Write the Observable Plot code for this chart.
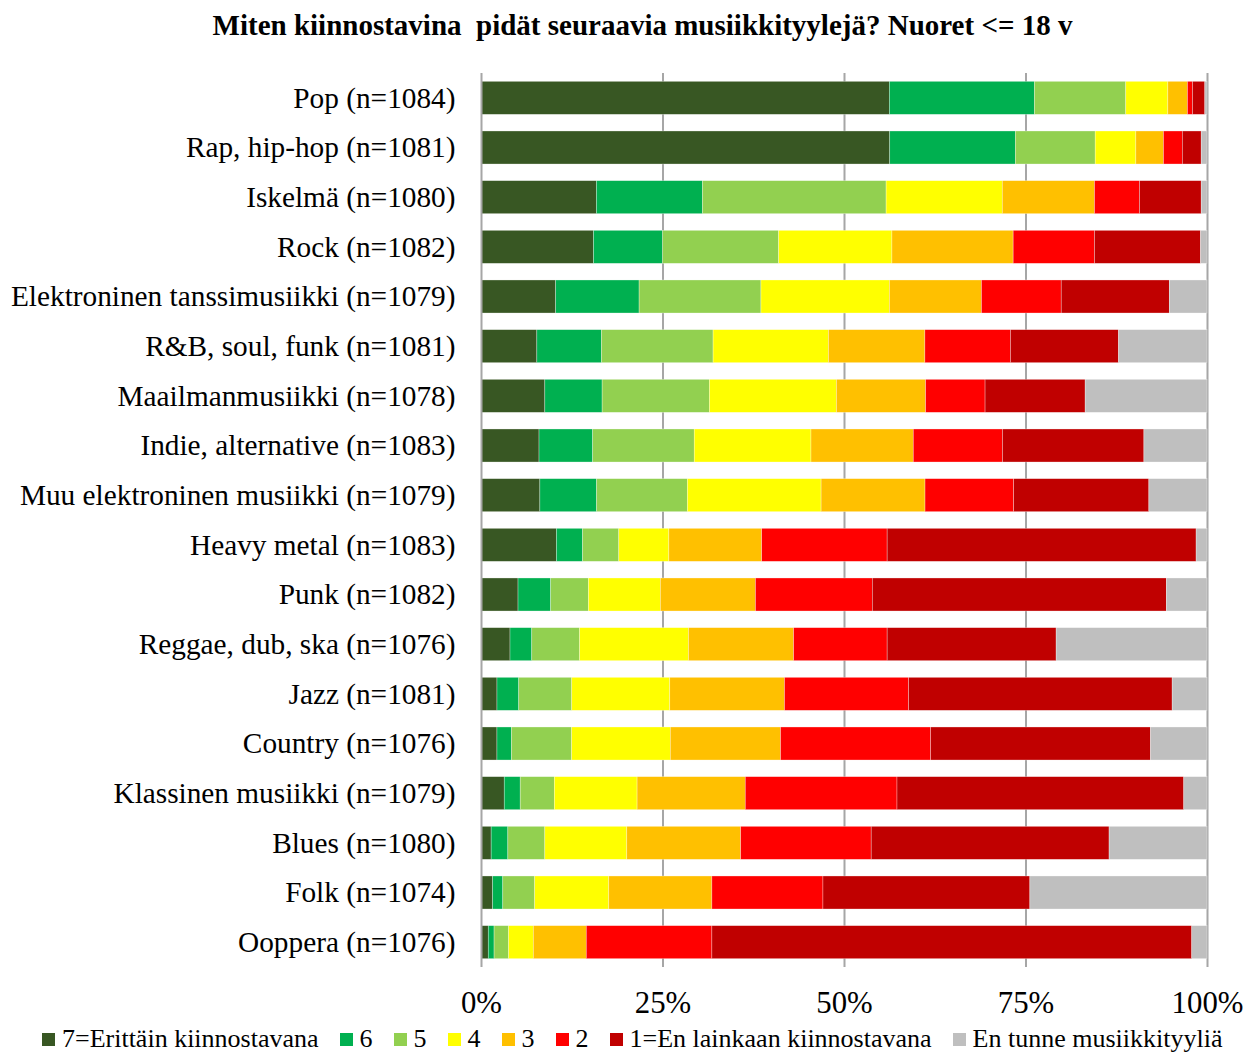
<!DOCTYPE html>
<html><head><meta charset="utf-8">
<script src="https://cdn.jsdelivr.net/npm/d3@7"></script>
<script src="https://cdn.jsdelivr.net/npm/@observablehq/plot@0.6"></script>
<style>
body{margin:0;background:#fff;font-family:"Liberation Serif","Times New Roman",serif;}
#title{height:48px;line-height:50px;text-align:center;font-weight:bold;font-size:29px;white-space:pre;padding-left:33px;box-sizing:border-box;width:1252px}
#chart svg{display:block}
#legend{display:flex;white-space:nowrap;overflow:hidden;padding-left:42px;font-size:26px;line-height:30px;height:34px;padding-top:4px;align-items:center;width:1252px;box-sizing:border-box}
.item{display:flex;align-items:center;margin-right:21px;flex:none}
.sw{width:13px;height:13px;margin-right:7px;flex:none}
</style></head><body>
<div id="title">Miten kiinnostavina  pidät seuraavia musiikkityylejä? Nuoret &lt;= 18 v</div>
<div id="chart"></div>
<div id="legend"></div>
<script>
const categories = ["Pop (n=1084)","Rap, hip-hop (n=1081)","Iskelmä (n=1080)","Rock (n=1082)","Elektroninen tanssimusiikki (n=1079)","R&B, soul, funk (n=1081)","Maailmanmusiikki (n=1078)","Indie, alternative (n=1083)","Muu elektroninen musiikki (n=1079)","Heavy metal (n=1083)","Punk (n=1082)","Reggae, dub, ska (n=1076)","Jazz (n=1081)","Country (n=1076)","Klassinen musiikki (n=1079)","Blues (n=1080)","Folk (n=1074)","Ooppera (n=1076)"];
const series = ["7=Erittäin kiinnostavana","6","5","4","3","2","1=En lainkaan kiinnostavana","En tunne musiikkityyliä"];
const colors = ["#385723","#00b050","#92d050","#ffff00","#ffc000","#ff0000","#c00000","#bfbfbf"];
const s7 = [56.3,56.3,15.9,15.5,10.3,7.7,8.8,8.0,8.1,10.4,5.1,4.0,2.2,2.2,3.2,1.4,1.6,1.0];
const s6 = [20.0,17.3,14.6,9.5,11.5,8.9,7.9,7.4,7.8,3.6,4.5,3.0,3.0,2.0,2.2,2.3,1.4,0.8];
const s5 = [12.6,11.0,25.3,16.0,16.8,15.4,14.8,14.0,12.5,5.0,5.2,6.6,7.3,8.3,4.7,5.1,4.4,2.0];
const s4 = [5.8,5.6,16.0,15.6,17.7,15.9,17.5,16.1,18.4,6.9,9.9,15.0,13.5,13.6,11.4,11.3,10.2,3.4];
const s3 = [2.7,3.8,12.7,16.7,12.7,13.3,12.3,14.1,14.3,12.8,13.1,14.5,15.8,15.2,14.9,15.7,14.2,7.3];
const s2 = [0.7,2.6,6.2,11.2,11.0,11.8,8.2,12.3,12.2,17.3,16.1,12.9,17.1,20.7,20.9,18.0,15.3,17.3];
const s1 = [1.7,2.6,8.5,14.6,14.9,14.9,13.8,19.5,18.6,42.6,40.5,23.3,36.3,30.3,39.5,32.8,28.5,66.1];
const s0 = [0.3,0.8,0.8,0.9,5.2,12.2,16.8,8.7,8.0,1.5,5.6,20.8,4.8,7.8,3.2,13.5,24.4,2.1];
const xTicks = [0,0.25,0.5,0.75,1];

const seriesValues = [s7,s6,s5,s4,s3,s2,s1,s0];
const data = [];
categories.forEach((c,i)=>{
  series.forEach((s,j)=>{ data.push({category:c, series:s, value:seriesValues[j][i]}); });
});

const chart = Plot.plot({
  width:1252, height:972,
  marginLeft:481, marginRight:45, marginTop:25, marginBottom:53,
  style:{fontFamily:"'Liberation Serif','Times New Roman',serif", fontSize:"29px", color:"#000", background:"#fff"},
  x:{domain:[0,1]},
  y:{domain:categories, paddingInner:0.335, paddingOuter:0.1675, round:false},
  color:{domain:series, range:colors},
  marks:[
    Plot.gridX(xTicks.slice(1), {stroke:"#a6a6a6", strokeOpacity:1, strokeWidth:2}),
    Plot.barX(data, Plot.stackX({x:"value", y:"category", fill:"series", offset:"normalize", stroke:"#ffffff", strokeWidth:0.6, strokeOpacity:0.5})),
    Plot.ruleX([0], {stroke:"#a6a6a6", strokeWidth:2}),
    Plot.axisY({tickSize:0, tickPadding:26, label:null, fontSize:29.3}),
    Plot.axisX({ticks:xTicks, tickFormat:d3.format(".0%"), tickSize:0, tickPadding:23.5, label:null, fontSize:30.8})
  ]
});
document.getElementById("chart").appendChild(chart);

const leg = document.getElementById("legend");
series.forEach((s,i)=>{
  const it = document.createElement("div"); it.className="item";
  const sw = document.createElement("div"); sw.className="sw"; sw.style.background=colors[i];
  const t = document.createElement("span"); t.textContent=s;
  it.appendChild(sw); it.appendChild(t); leg.appendChild(it);
});
</script></body></html>
